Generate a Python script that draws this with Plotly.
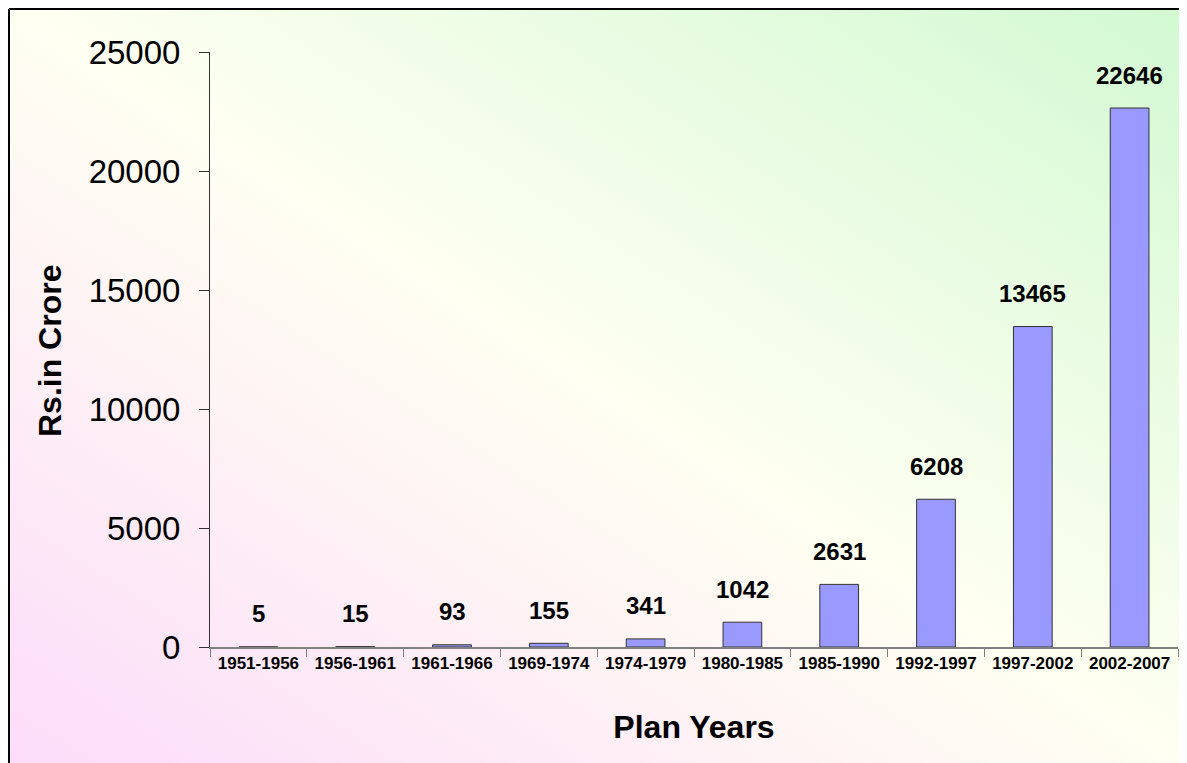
import base64
import plotly.graph_objects as go

periods = ["1951-1956", "1956-1961", "1961-1966", "1969-1974", "1974-1979",
           "1980-1985", "1985-1990", "1992-1997", "1997-2002", "2002-2007"]
values = [5, 15, 93, 155, 341, 1042, 2631, 6208, 13465, 22646]

OFF = 8  # page body margin
SW, SH = 1187, 763
W, H = SW - OFF, SH - OFF
# plot area in screen pixels
SX0, SX1, SY0, SY1 = 210, 1178, 52, 647
L, R, T, B = SX0 - OFF, SW - SX1, SY0 - OFF, SH - SY1
PW, PH = W - L - R, H - T - B


def px_x(sx):
    return (sx - SX0) / PW


def px_y(sy):
    return (SY1 - sy) / PH


svg = (
    '<svg xmlns="http://www.w3.org/2000/svg" width="1180" height="755" viewBox="0 0 1180 755" preserveAspectRatio="none">'
    '<defs><linearGradient id="g" x1="0" y1="1" x2="1" y2="0">'
    '<stop offset="0" stop-color="#fcdcfa"/>'
    '<stop offset="0.5" stop-color="#fffff2"/>'
    '<stop offset="1" stop-color="#d2f9d2"/>'
    '</linearGradient></defs>'
    '<rect x="0" y="0" width="1180" height="755" fill="url(#g)"/></svg>'
)
src = "data:image/svg+xml;base64," + base64.b64encode(svg.encode()).decode()

fig = go.Figure()
fig.add_trace(go.Bar(
    x=periods, y=values, width=0.4,
    marker=dict(color="#9999ff", line=dict(color="#333333", width=1)),
    hoverinfo="x+y",
))

for p, v in zip(periods, values):
    fig.add_annotation(x=p, y=v, text="<b>%d</b>" % v, showarrow=False,
                       yanchor="middle", yshift=33,
                       font=dict(family="Liberation Sans, Arial", size=24, color="black"))

# y-axis title
fig.add_annotation(xref="paper", yref="paper", x=px_x(50), y=px_y(351),
                   text="<b>Rs.in Crore</b>", textangle=-90, showarrow=False,
                   xanchor="center", yanchor="middle",
                   font=dict(family="Liberation Sans, Arial", size=32, color="black"))

fig.add_layout_image(dict(
    source=src, xref="paper", yref="paper",
    x=px_x(OFF), y=px_y(OFF), sizex=(SW - OFF) / PW, sizey=(SH - OFF) / PH,
    xanchor="left", yanchor="top", sizing="stretch", layer="below",
))

# frame (top and left edges)
fig.add_shape(type="line", xref="paper", yref="paper",
              x0=px_x(OFF + 1), y0=px_y(OFF + 1), x1=px_x(SW + 5), y1=px_y(OFF + 1),
              line=dict(color="black", width=2))
fig.add_shape(type="line", xref="paper", yref="paper",
              x0=px_x(OFF + 1), y0=px_y(OFF + 1), x1=px_x(OFF + 1), y1=px_y(SH + 5),
              line=dict(color="black", width=2))

fig.update_layout(
    width=W, height=H,
    margin=dict(l=L, r=R, t=T, b=B, autoexpand=False),
    paper_bgcolor="white", plot_bgcolor="rgba(0,0,0,0)",
    showlegend=False, bargap=0.6,
    font=dict(family="Liberation Sans, Arial", color="black"),
    xaxis=dict(
        type="category", tickson="boundaries", ticks="outside", ticklen=8,
        tickcolor="#808080", showline=True, linecolor="#808080", linewidth=1.5,
        showgrid=False, tickfont=dict(size=17, family="Liberation Sans, Arial"),
        tickprefix="<b>", ticksuffix="</b>",
        title=dict(text="<b>Plan Years</b>", font=dict(size=32), standoff=43),
        range=[-0.5, 9.5],
    ),
    yaxis=dict(
        range=[0, 25000], dtick=5000, tickformat="d", ticks="outside", ticklen=10,
        tickcolor="#333333", showline=True, linecolor="#333333", linewidth=1,
        showgrid=False, zeroline=False, tickfont=dict(size=33),
        ticklabelstandoff=12,
    ),
)

fig.write_html("out.html")
